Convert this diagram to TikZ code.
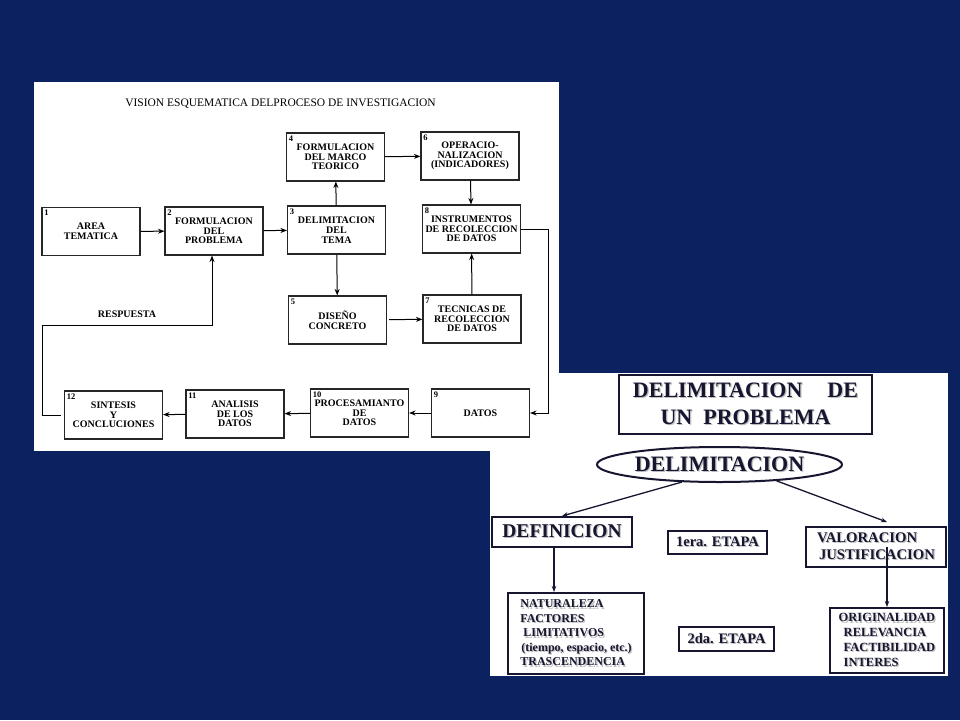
\documentclass[tikz,border=0pt]{standalone}
\usepackage{fontspec}
\setmainfont{Liberation Serif}
\usetikzlibrary{arrows.meta,shapes,positioning}
\definecolor{fondo}{RGB}{12,34,96}
\definecolor{tinta}{RGB}{22,22,48}
\newcommand{\sombra}[1]{\leavevmode\rlap{\hspace{1.2pt}\raisebox{-1.2pt}{\color{black!25}#1}}#1}

\begin{document}
\begin{tikzpicture}[x=1pt,y=-1pt,->,>={Stealth[length=6.5pt,width=5pt]},line width=1pt]
 \tikzstyle{paso}=[draw=black!85,rectangle,line width=1.1pt,minimum width=98pt,minimum height=48pt,inner sep=1pt,align=center,font=\fontsize{10}{9.7}\selectfont\bfseries]
 \tikzstyle{num}=[anchor=north west,inner sep=2.5pt,font=\fontsize{8.5}{8.5}\selectfont\bfseries]
 \tikzstyle{caja}=[draw=tinta,rectangle,line width=2pt,inner sep=0pt,text=tinta,font=\bfseries]
 \tikzstyle{rama}=[draw=tinta,line width=1.3pt,>={Stealth[length=6pt,width=4.5pt]}]

 % fondo y paneles
 \fill[fondo,-] (0,0) rectangle (960,720);
 \fill[white,-] (490,373) rectangle (948,676);
 \fill[white,-] (34,82) rectangle (559,451);

 % proceso de investigacion
 \node[font=\fontsize{11.5}{11.5}\selectfont] (titulo) at (280.5,104) {VISION ESQUEMATICA DELPROCESO DE INVESTIGACION};

 \node[paso,label={[num]north west:1}] (b1) at (91,231.5) {AREA\\TEMATICA};
 \node[paso,label={[num]north west:2}] (b2) at (214,231) {FORMULACION\\DEL\\PROBLEMA};
 \node[paso,label={[num]north west:3}] (b3) at (336.5,230) {DELIMITACION\\DEL\\TEMA};
 \node[paso,label={[num]north west:4}] (b4) at (335.5,157) {FORMULACION\\DEL MARCO\\TEORICO};
 \node[paso,label={[num]north west:5}] (b5) at (337.5,320) {DISEÑO\\CONCRETO};
 \node[paso,label={[num]north west:6}] (b6) at (470,156) {OPERACIO-\\NALIZACION\\(INDICADORES)};
 \node[paso,label={[num]north west:7}] (b7) at (472,319) {TECNICAS DE\\RECOLECCION\\DE DATOS};
 \node[paso,label={[num]north west:8}] (b8) at (471.5,229) {INSTRUMENTOS\\DE RECOLECCION\\DE DATOS};
 \node[paso,label={[num]north west:9}] (b9) at (480.5,413) {DATOS};
 \node[paso,label={[num]north west:10}] (b10) at (359.5,413) {PROCESAMIANTO\\DE\\DATOS};
 \node[paso,label={[num]north west:11}] (b11) at (235,414) {ANALISIS\\DE LOS\\DATOS};
 \node[paso,label={[num]north west:12}] (b12) at (113.5,415) {SINTESIS\\Y\\CONCLUCIONES};

 \draw (b1) -- (b2);
 \draw (b2) -- (b3);
 \draw (b3) -- (b4);
 \draw (b4) -- (b6);
 \draw (b6) -- (b8);
 \draw (b3) -- (b5);
 \draw[shorten <=2pt] (b5) -- (b7);
 \draw (b7) -- (b8);
 \draw (b8.east) -- ++(27,0) |- (b9.east);
 \draw (b9) -- (b10);
 \draw (b10) -- (b11);
 \draw (b11) -- (b12);
 \coordinate (giro) at (42,325);
 \coordinate (retorno) at (212,325);
 \draw[shorten <=3pt] (b12.west) -| (giro) -- node[above=4pt,font=\fontsize{10}{10}\selectfont\bfseries] (resp) {RESPUESTA} (retorno) -- (retorno |- b2.south);

 % delimitacion de un problema
 \node[caja,minimum width=253pt,minimum height=59pt,align=center,font=\fontsize{22}{27}\selectfont\bfseries] (tit) at (745.5,404.5) {\sombra{DELIMITACION\hspace{25pt}DE}\\\sombra{UN~~PROBLEMA}};
 \node[caja,ellipse,minimum width=245pt,minimum height=35pt,font=\fontsize{22}{22}\selectfont\bfseries] (deli) at (719.5,464.5) {\sombra{DELIMITACION}};
 \node[caja,minimum width=140pt,minimum height=30pt,font=\fontsize{19.5}{19.5}\selectfont\bfseries] (def) at (562,532) {\sombra{DEFINICION}};
 \node[caja,minimum width=99pt,minimum height=23pt,font=\fontsize{14.5}{14.5}\selectfont\bfseries] (eta1) at (717.5,542.5) {\sombra{1era. ETAPA}};
 \node[caja,minimum width=140pt,minimum height=40pt,align=left,font=\fontsize{14.7}{17}\selectfont\bfseries] (val) at (876,547) {\sombra{VALORACION}\\\hspace*{2pt}\sombra{JUSTIFICACION}};
 \node[caja,minimum width=136pt,minimum height=81pt,align=left,font=\fontsize{12}{14.5}\selectfont\bfseries] (nat) at (576,633.5) {\sombra{NATURALEZA}\\\sombra{FACTORES}\\\hspace*{3pt}\sombra{LIMITATIVOS}\\\hspace*{1pt}\sombra{(tiempo, espacio, etc.)}\\\sombra{TRASCENDENCIA}};
 \node[caja,minimum width=95pt,minimum height=24pt,font=\fontsize{14.5}{14.5}\selectfont\bfseries] (eta2) at (726.5,639) {\sombra{2da. ETAPA}};
 \node[caja,minimum width=114pt,minimum height=65pt,align=left,font=\fontsize{12.5}{14.7}\selectfont\bfseries] (ori) at (887,640.5) {\sombra{ORIGINALIDAD}\\\hspace*{5pt}\sombra{RELEVANCIA}\\\hspace*{5pt}\sombra{FACTIBILIDAD}\\\hspace*{5pt}\sombra{INTERES}};

 \draw[rama] (deli.205) -- (def.north);
 \draw[rama] (deli.344) -- ([yshift=4pt]val.north -| ori.north);
 \draw[rama] ([xshift=-8pt]def.south) -- ([xshift=-8pt]def.south |- nat.north);
 \draw[rama] (val.center -| ori.north) -- (ori.north);
\end{tikzpicture}
\end{document}
